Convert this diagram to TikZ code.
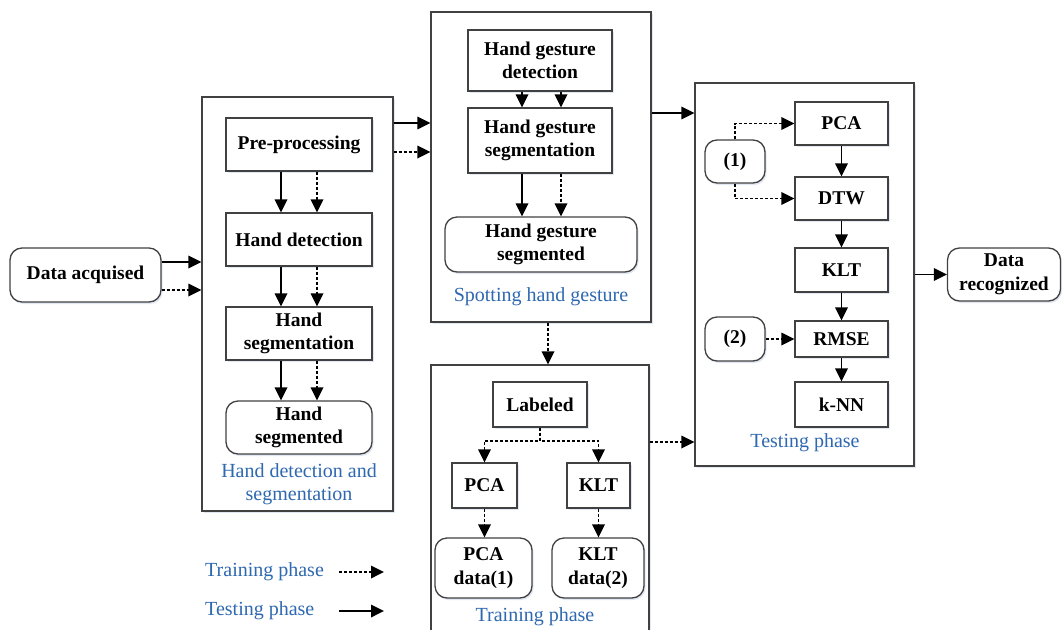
\documentclass[tikz,border=0pt]{standalone}
\usepackage{fontspec}
\setmainfont{Liberation Serif}
\usetikzlibrary{arrows.meta,calc,shadows}
\definecolor{boxc}{RGB}{65,65,65}
\definecolor{lblue}{RGB}{46,104,176}
\definecolor{shadc}{RGB}{205,218,236}
\tikzset{
 box/.style={draw=boxc, line width=1.3pt, fill=white, inner sep=0pt, align=center,
   font=\bfseries\fontsize{19.5}{23.5}\selectfont,
   drop shadow={shadow xshift=1.5pt, shadow yshift=-2pt, fill=shadc, opacity=0.6}},
 rbox/.style={box, rounded corners=12pt},
 grp/.style={box},
 sz/.style 2 args={minimum width=#1pt, minimum height=#2pt},
 lbl/.style={text=lblue, font=\fontsize{20}{23}\selectfont, align=center, inner sep=0pt},
 sol/.style={draw=black, line width=1.8pt, -{Triangle[length=13pt,width=12.5pt]}},
 dsh/.style={sol, dash pattern=on 3pt off 2pt},
}
\begin{document}
\begin{tikzpicture}[x=1pt,y=-1pt]
\useasboundingbox (0,0) rectangle (1062,629);
\clip (0,0) rectangle (1062,629);
\fill[white] (0,0) rectangle (1062,629);

% left group
\node[rbox, sz={151}{54}] (da) at (85.5,275) {Data acquised};
\node[grp, sz={191}{414}] (lbox) at (297.5,304) {};
\node[box, sz={146}{53}] (pre) at (299,144.5) {Pre-processing};
\node[box, sz={146}{53}] (hd) at (299,239.5) {Hand detection};
\node[box, sz={146}{53}] (hs) at (299,333.5) {Hand\\segmentation};
\node[rbox, sz={146}{53}] (hsd) at (299,427.5) {Hand\\segmented};
\node[lbl] (l1) at (299,484.5) {Hand detection and\\segmentation};

% middle group
\node[grp, sz={220}{310}] (mbox) at (541,167) {};
\node[box, sz={144}{61}] (hgd) at (540,60.5) {Hand gesture\\detection};
\node[box, sz={144}{65}] (hgs) at (540,140.5) {Hand gesture\\segmentation};
\node[rbox, sz={192}{55}] (hgsd) at (541,244.5) {Hand gesture\\segmented};
\node[lbl] (l2) at (541,297) {Spotting hand gesture};

% training group
\node[grp, sz={218}{290}] (tbox) at (540,510) {};
\node[box, sz={94}{45}] (lab) at (540,404.5) {Labeled};
\node[box, sz={65}{45}] (tpca) at (484.5,485.5) {PCA};
\node[box, sz={63}{45}] (tklt) at (598.5,485.5) {KLT};
\node[rbox, sz={97}{60}] (pcad) at (483.5,568) {PCA\\data(1)};
\node[rbox, sz={92}{60}] (kltd) at (598,568) {KLT\\data(2)};
\node[lbl] (l3) at (535,617) {Training phase};

% testing group
\node[grp, sz={219}{383}] (rbx) at (804.5,274.5) {};
\node[box, sz={93}{43}] (rpca) at (841.5,123.5) {PCA};
\node[box, sz={93}{43}] (dtw) at (841.5,198.5) {DTW};
\node[box, sz={93}{44}] (klt) at (841.5,270) {KLT};
\node[box, sz={93}{36}] (rmse) at (841.5,339) {RMSE};
\node[box, sz={93}{45}] (knn) at (841.5,404.5) {k-NN};
\node[rbox, sz={60}{43}] (one) at (735,161.5) {(1)};
\node[rbox, sz={60}{44}] (two) at (735,339) {(2)};
\node[lbl] (l4) at (805,443) {Testing phase};
\node[rbox, sz={113}{53}] (dr) at (1004,274.5) {Data\\recognized};

% legend
\node[lbl, anchor=west] (lg1) at (205,572) {Training phase};
\node[lbl, anchor=west] (lg2) at (205,611) {Testing phase};
\coordinate (lg1s) at (339,572);
\coordinate (lg1e) at (384,572);
\coordinate (lg2s) at (339,611);
\coordinate (lg2e) at (384,611);

% helper coordinates
\path ($(da.east)+(0,-13)$) coordinate (da1)
      ($(da.east)+(0,15)$) coordinate (da2)
      ($(pre.east)+(0,-21.5)$) coordinate (p1)
      ($(pre.east)+(0,7.5)$) coordinate (p2)
      ($(hgs.east)+(0,-27.5)$) coordinate (h1)
      ($(mbox.south)+(7,0)$) coordinate (m1)
      ($(lab.east)+(0,37.5)$) coordinate (t1)
      ($(lab.south)+(0,13)$) coordinate (lb);

% data acquised -> left group
\draw[sol] (da1) -- (da1 -| lbox.west);
\draw[dsh] (da2) -- (da2 -| lbox.west);

% inside left group
\foreach \a/\b in {pre/hd, hd/hs, hs/hsd}{
  \draw[sol] ($(\a.south)+(-18,0)$) -- ($(\b.north)+(-18,0)$);
  \draw[dsh] ($(\a.south)+(18,0)$) -- ($(\b.north)+(18,0)$);
}

% left -> middle
\draw[sol] (p1 -| lbox.east) -- (p1 -| mbox.west);
\draw[dsh] (p2 -| lbox.east) -- (p2 -| mbox.west);

% inside middle
\draw[sol] ($(hgd.south)+(-18,0)$) -- ($(hgs.north)+(-18,0)$);
\draw[dsh] ($(hgd.south)+(21,0)$) -- ($(hgs.north)+(21,0)$);
\draw[sol] ($(hgs.south)+(-18,0)$) -- ($(hgsd.north)+(-19,0)$);
\draw[dsh] ($(hgs.south)+(21,0)$) -- ($(hgsd.north)+(20,0)$);

% middle -> testing
\draw[sol] (h1 -| mbox.east) -- (h1 -| rbx.west);
% middle -> training
\draw[dsh] (m1) -- (m1 |- tbox.north);

% inside training
\draw[dsh] (lab.south) -- (lb) -| (tpca.north);
\draw[dsh] (lab.south) -- (lb) -| (tklt.north);
\draw[dsh] (tpca.south) -- (tpca.south |- pcad.north);
\draw[dsh] (tklt.south) -- (tklt.south |- kltd.north);

% training -> testing
\draw[dsh] (t1 -| tbox.east) -- (t1 -| rbx.west);

% inside testing
\foreach \a/\b in {rpca/dtw, dtw/klt, klt/rmse, rmse/knn}{
  \draw[sol] (\a.south) -- (\b.north);
}
\draw[dsh] (one.north) |- (rpca.west);
\draw[dsh] (one.south) |- (dtw.west);
\draw[dsh] (two.east) -- (rmse.west);

% testing -> result
\draw[sol] (rbx.east |- dr.west) -- (dr.west);

% legend arrows
\draw[dsh] (lg1s) -- (lg1e);
\draw[sol] (lg2s) -- (lg2e);
\end{tikzpicture}
\end{document}
